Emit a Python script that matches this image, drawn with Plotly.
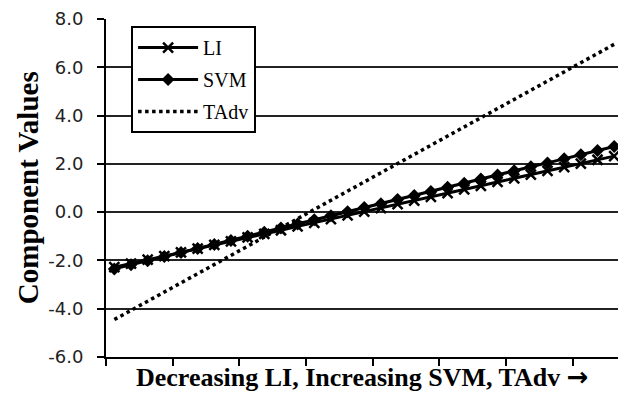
import plotly.graph_objects as go

categories = list(range(1, 32))

li_values = [-2.28, -2.13, -1.97, -1.82, -1.67, -1.51, -1.36, -1.21, -1.05, -0.90,
             -0.75, -0.59, -0.44, -0.29, -0.13, 0.02, 0.17, 0.33, 0.48, 0.63,
             0.79, 0.94, 1.09, 1.25, 1.40, 1.55, 1.71, 1.86, 2.01, 2.17, 2.32]

svm_values = [-2.35, -2.18, -2.01, -1.84, -1.67, -1.51, -1.34, -1.17, -1.00, -0.83,
              -0.66, -0.49, -0.32, -0.15, 0.02, 0.19, 0.35, 0.52, 0.69, 0.86,
              1.03, 1.20, 1.37, 1.54, 1.71, 1.88, 2.04, 2.21, 2.38, 2.55, 2.72]

tadv_values = [-4.45, -4.07, -3.69, -3.31, -2.93, -2.55, -2.17, -1.79, -1.41, -1.03,
               -0.65, -0.27, 0.11, 0.49, 0.87, 1.25, 1.63, 2.01, 2.39, 2.77,
               3.15, 3.53, 3.91, 4.29, 4.67, 5.05, 5.43, 5.81, 6.19, 6.57, 6.95]

y_ticks = [-6, -4, -2, 0, 2, 4, 6, 8]
x_tick_bounds = [0.5, 4.5, 8.5, 12.5, 16.5, 20.5, 24.5, 28.5]

x_title = "Decreasing LI, Increasing SVM, TAdv"
x_arrow = "\u2192"
y_title = "Component Values"

fig = go.Figure()
fig.add_trace(go.Scatter(
    x=categories, y=tadv_values, name="TAdv", mode="lines", legendgroup="c", legendrank=3,
    line=dict(color="black", width=3.5, dash="3.5px,3.5px"),
))
fig.add_trace(go.Scatter(
    x=categories, y=li_values, name="LI", mode="lines+markers", legendgroup="a", legendrank=1,
    line=dict(color="black", width=3),
    marker=dict(symbol="x-thin", size=10, color="black", line=dict(color="black", width=2.5)),
))
fig.add_trace(go.Scatter(
    x=categories, y=svm_values, name="SVM", mode="lines+markers", legendgroup="b", legendrank=2,
    line=dict(color="black", width=3),
    marker=dict(symbol="diamond", size=10, color="black"),
))

fig.update_layout(
    width=618, height=393,
    margin=dict(l=106, r=0, t=19, b=36, autoexpand=False),
    paper_bgcolor="white", plot_bgcolor="white",
    showlegend=True,
    legend=dict(
        x=0.049, y=0.979, xanchor="left", yanchor="top",
        bgcolor="white", bordercolor="black", borderwidth=2,
        font=dict(family="Liberation Serif", size=20, color="black"),
        itemwidth=60, tracegroupgap=3, traceorder="grouped",
    ),
    xaxis=dict(
        range=[0.5, 31.23], showgrid=False, zeroline=False, automargin=False,
        showline=True, linecolor="black", linewidth=2,
        tickmode="array", tickvals=x_tick_bounds, ticktext=[""] * len(x_tick_bounds),
        ticks="outside", ticklen=7, tickwidth=1.5, tickcolor="black",
    ),
    yaxis=dict(
        range=[-6, 8], tickmode="array", tickvals=y_ticks, automargin=False,
        ticktext=[f"{v:.1f}" for v in y_ticks],
        showgrid=True, gridcolor="#222222", gridwidth=1.5, zeroline=False,
        showline=True, linecolor="black", linewidth=2,
        ticks="outside", ticklen=7, tickwidth=1.5, tickcolor="black",
        ticklabelstandoff=10,
        tickfont=dict(family="DejaVu Sans", size=18, color="#222222"),
    ),
    annotations=[
        dict(text="<b>" + x_title + " <span style=\"font-family:'DejaVu Sans'\">" + x_arrow + "</span></b>",
             xref="paper", yref="paper",
             x=0.5, y=-0.059, xanchor="center", yanchor="middle", showarrow=False,
             font=dict(family="Liberation Serif", size=26, color="black")),
        dict(text="<b>" + y_title + "</b>", xref="paper", yref="paper",
             x=-0.152, y=0.5, xanchor="center", yanchor="middle", showarrow=False,
             textangle=-90,
             font=dict(family="Liberation Serif", size=29, color="black")),
    ],
)

fig.write_html("out.html", config={"displayModeBar": False},
               post_script="document.body.style.margin='0';")
